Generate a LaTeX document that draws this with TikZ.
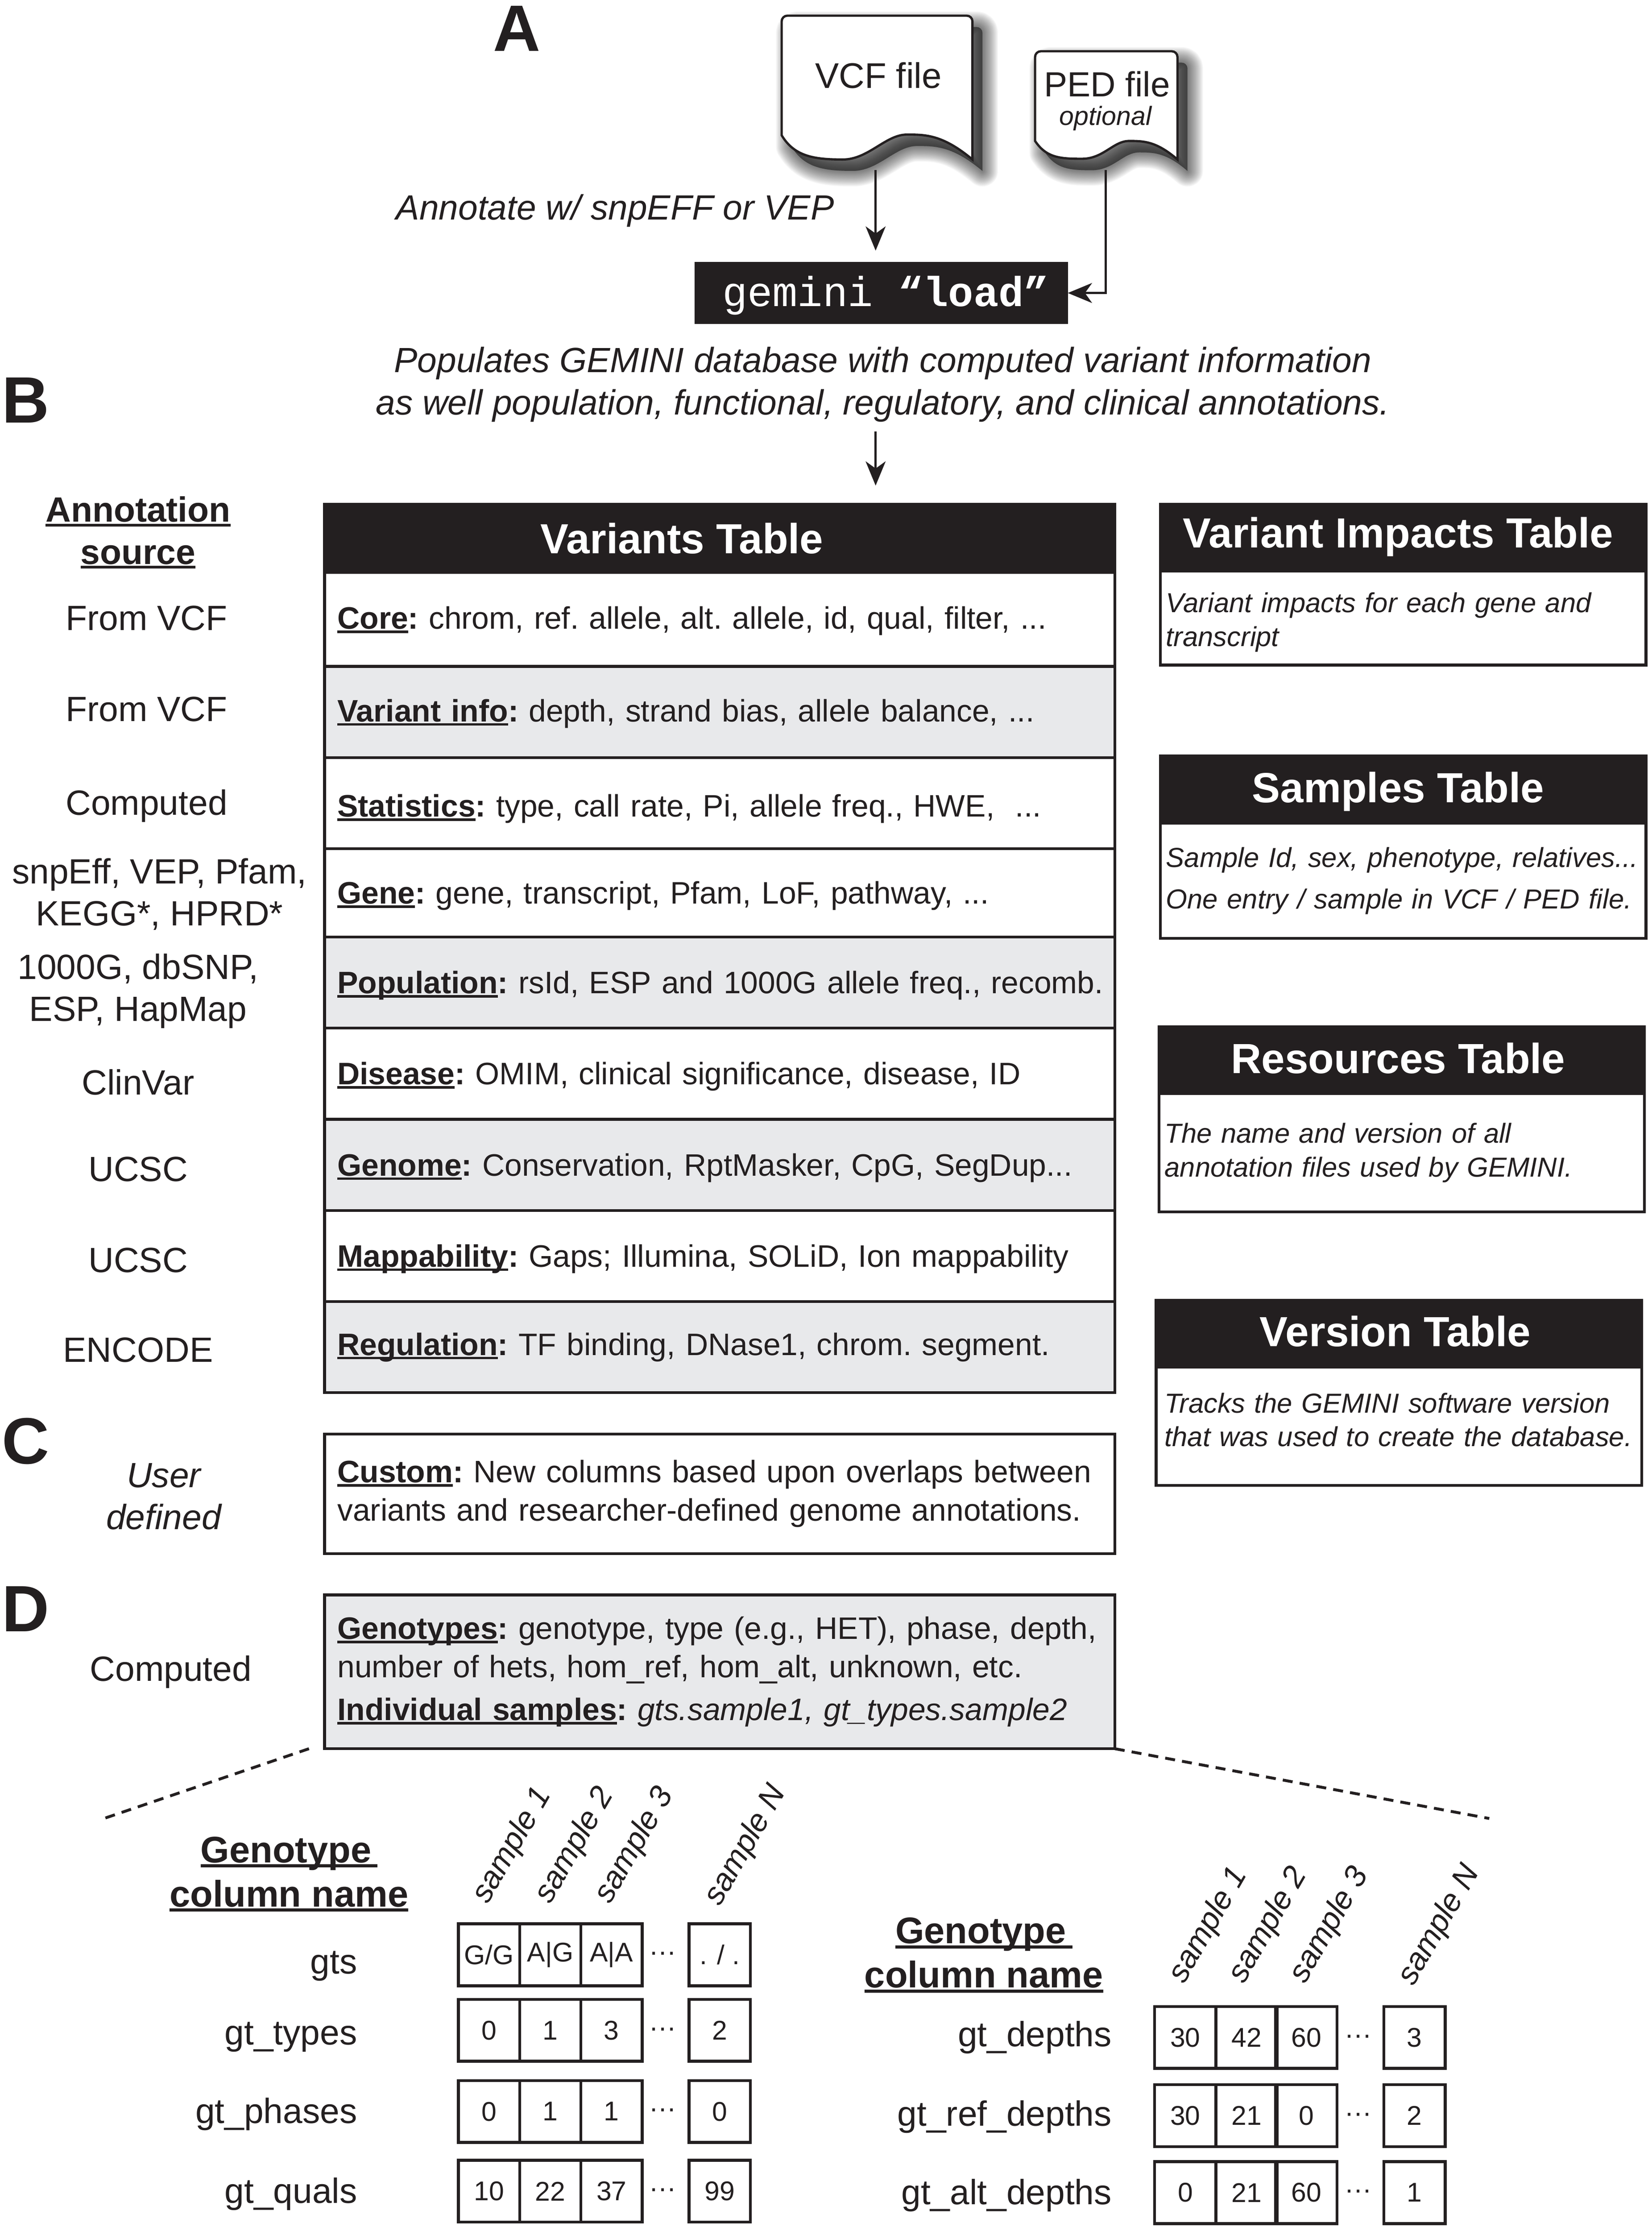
\documentclass[tikz,border=0pt]{standalone}
\usepackage{fontspec}
\setmainfont{Liberation Sans}
\setmonofont{Liberation Mono}
\usetikzlibrary{arrows.meta}

\definecolor{inkblack}{HTML}{231F20}
\definecolor{rowgray}{HTML}{E8E9EB}

\newsavebox{\ulbox}
\newcommand{\ulbf}[1]{\leavevmode\sbox{\ulbox}{\textbf{#1}}\rlap{\rule[-.13em]{\wd\ulbox}{.08em}}\usebox{\ulbox}}
\newcommand{\vcfoutline}{(549,95) [rounded corners=4pt] -- (549,11) -- (683,11) [sharp corners] -- (683,112)
    .. controls (662,94.5) and (650,94.5) .. (637,94.5) .. controls (622,94.5) and (610,112) .. (592,112)
    .. controls (572,112) and (558,110) .. (549,95) -- cycle}
\newcommand{\pedoutline}{(727,99) [rounded corners=4pt] -- (727,36) -- (827,36) [sharp corners] -- (827,112)
    .. controls (812,99) and (803,99) .. (793,99) .. controls (782,99) and (775,111.5) .. (760,111.5)
    .. controls (745,111.5) and (735,111) .. (727,99) -- cycle}

\tikzset{
    flow/.style={draw=inkblack, line width=1.5pt, -{Stealth[length=17pt,width=14pt,inset=5pt]}},
    panelletter/.style={font=\fontsize{46}{46}\selectfont\bfseries, inner sep=0pt},
    sourcelabel/.style={font=\fontsize{24.6}{29.5}\selectfont, align=center, inner sep=0pt},
    intro/.style={font=\fontsize{24.6}{30}\selectfont\itshape, align=center, inner sep=0pt},
    rowbox/.style={draw=inkblack, line width=2pt, outer sep=0pt, anchor=north west, minimum width=555pt, inner xsep=9pt, inner ysep=0pt,
        text width=537pt, align=left, font=\fontsize{21.8}{27}\selectfont\frenchspacing},
    grayrow/.style={rowbox, fill=rowgray},
    droprow/.style={text height=#1, text depth=4.6pt},
    headbox/.style={fill=inkblack, draw=inkblack, line width=2pt, outer sep=0pt, anchor=north west, inner sep=0pt},
    headtitle/.style={text=white, inner sep=0pt, font=\fontsize{29.6}{29.6}\selectfont\bfseries},
    sidebody/.style={draw=inkblack, line width=2pt, outer sep=0pt, anchor=north west, minimum width=341pt, inner xsep=4pt, inner ysep=0pt,
        text width=333pt, align=left, font=\fontsize{19.3}{24}\selectfont\itshape\frenchspacing},
    cell/.style={draw=inkblack, line width=2pt, outer sep=0pt, anchor=north west, minimum width=43pt, minimum height=43.5pt, inner sep=0pt,
        font=\fontsize{19}{19}\selectfont},
    colname/.style={font=\fontsize{24.6}{24.6}\selectfont, anchor=base east, inner sep=0pt},
    coltitle/.style={font=\fontsize{26}{31}\selectfont\bfseries, align=center, inner sep=0pt},
    samplelabel/.style={font=\fontsize{22}{22}\selectfont\itshape, rotate=60, inner sep=0pt},
    gapdots/.style={font=\fontsize{19}{19}\selectfont, inner sep=0pt},
    zoomline/.style={draw=inkblack, line width=2pt, dashed, dash pattern=on 7pt off 5pt},
}

\begin{document}
\begin{tikzpicture}[x=1pt, y=-1pt, text=inkblack]
    \useasboundingbox (0,0) rectangle (1160,1566.7);

    % panel A
    \node[panelletter] (panelA) at (363,20) {A};
    \foreach \blur in {22,21,...,1} {
        \path[shift={(7,8)}, fill=black, draw=black, line join=round, opacity=.03, line width=\blur pt] \vcfoutline;
        \path[shift={(7,8)}, fill=black, draw=black, line join=round, opacity=.03, line width=\blur pt] \pedoutline;
    }
    \draw[fill=white, draw=inkblack, line width=1.6pt] \vcfoutline;
    \draw[fill=white, draw=inkblack, line width=1.6pt] \pedoutline;
    \node[font=\fontsize{25}{25}\selectfont, inner sep=0pt] (vcf) at (617,53) {VCF file};
    \node[font=\fontsize{24.5}{24.5}\selectfont, inner sep=0pt] (ped) at (777.5,59) {PED file};
    \node[font=\fontsize{18.5}{18.5}\selectfont\itshape, inner sep=0pt] (pedopt) at (776.5,83) {optional};
    \node[intro] (annotate) at (432,148) {Annotate w/ snpEFF or VEP};
    \node[fill=inkblack, outer sep=0pt, anchor=north west, minimum width=262pt, minimum height=43.5pt, inner sep=0pt, text=white,
        text height=25pt, text depth=6pt,
        font=\fontsize{29.4}{29.4}\selectfont\ttfamily] (load) at (488,184) {\hspace*{6pt}gemini \textbf{“load”}};
    \node[intro] (populates) at (620,270) {Populates GEMINI database with computed variant information\\
        as well population, functional, regulatory, and clinical annotations.};
    \coordinate (vcfout) at (615,119.5);
    \coordinate (pedout) at (776.5,119.5);
    \coordinate (loadout) at (615,303);
    \draw[flow, shorten >=8pt] (vcfout) -- (vcfout |- load.north);
    \draw[flow] (pedout) |- (load.east);

    % panel B, the main table
    \node[panelletter] (panelB) at (18,281) {B};
    \node[headbox, minimum width=555pt, minimum height=48pt] (varhead) at (228,354) {};
    \node[headtitle] (vartitle) at (479,378) {Variants Table};
    \draw[flow, shorten >=13pt] (loadout) -- (loadout |- varhead.north);
    \node[rowbox, droprow=18pt, minimum height=66pt] (core) at (228,402) {\ulbf{Core}\textbf{:} chrom, ref. allele, alt. allele, id, qual, filter, ...};
    \node[grayrow, droprow=18pt, minimum height=64pt] (varinfo) at (228,468) {\ulbf{Variant info}\textbf{:} depth, strand bias, allele balance, ...};
    \node[rowbox, droprow=24pt, minimum height=64pt] (stats) at (228,532) {\ulbf{Statistics}\textbf{:} type, call rate, Pi, allele freq., HWE,~~...};
    \node[rowbox, droprow=20pt, minimum height=62pt] (gene) at (228,596) {\ulbf{Gene}\textbf{:} gene, transcript, Pfam, LoF, pathway, ...};
    \node[grayrow, droprow=20pt, minimum height=64pt] (popul) at (228,658) {\mbox{\ulbf{Population}\textbf{:} rsId, ESP and 1000G allele freq., recomb.}};
    \node[rowbox, droprow=20pt, minimum height=64pt] (disease) at (228,722) {\ulbf{Disease}\textbf{:} OMIM, clinical significance, disease, ID};
    \node[grayrow, droprow=20pt, minimum height=64pt] (genome) at (228,786) {\ulbf{Genome}\textbf{:} Conservation, RptMasker, CpG, SegDup...};
    \node[rowbox, droprow=20pt, minimum height=64pt] (mapp) at (228,850) {\ulbf{Mappability}\textbf{:} Gaps; Illumina, SOLiD, Ion mappability};
    \node[grayrow, droprow=16pt, minimum height=64pt] (regul) at (228,914) {\ulbf{Regulation}\textbf{:} TF binding, DNase1, chrom. segment.};

    % annotation sources
    \node[sourcelabel] (srchead) at (97,374) {\ulbf{Annotation}\\\ulbf{source}};
    \node[sourcelabel] (src1) at (103,434) {From VCF};
    \node[sourcelabel] (src2) at (103,498) {From VCF};
    \node[sourcelabel] (src3) at (103,566) {Computed};
    \node[sourcelabel] (src4) at (112,628) {snpEff, VEP, Pfam,\\KEGG*, HPRD*};
    \node[sourcelabel] (src5) at (97,696) {1000G, dbSNP,\\ESP, HapMap};
    \node[sourcelabel] (src6) at (97,760) {ClinVar};
    \node[sourcelabel] (src7) at (97,821) {UCSC};
    \node[sourcelabel] (src8) at (97,885) {UCSC};
    \node[sourcelabel] (src9) at (97,948) {ENCODE};

    % side tables
    \node[headbox, minimum width=341pt, minimum height=47pt] (imphead) at (815,354) {};
    \node[headtitle] (imptitle) at (982,377) {Variant Impacts Table};
    \node[sidebody, minimum height=66pt] (impbody) at (815,401) {\rule{0pt}{20pt}Variant impacts for each gene and\\transcript};
    \node[headbox, minimum width=341pt, minimum height=47pt] (samphead) at (815,531) {};
    \node[headtitle] (samptitle) at (982,556) {Samples Table};
    \node[sidebody, minimum height=81pt, font=\fontsize{19.3}{29}\selectfont\itshape\frenchspacing] (sampbody) at (815,578) {Sample Id, sex, phenotype, relatives...\\One entry / sample in VCF / PED file.};
    \node[headbox, minimum width=341pt, minimum height=47pt] (reshead) at (814,721) {};
    \node[headtitle] (restitle) at (982,743) {Resources Table};
    \node[sidebody, minimum height=83pt] (resbody) at (814,768) {The name and version of all\\annotation files used by GEMINI.};
    \node[headbox, minimum width=341pt, minimum height=47pt] (verhead) at (812,913) {};
    \node[headtitle] (vertitle) at (980,935) {Version Table};
    \node[sidebody, minimum height=83pt, inner xsep=6pt, text width=329pt, font=\fontsize{19.3}{23.5}\selectfont\itshape\frenchspacing] (verbody) at (812,960) {Tracks the GEMINI software version\\that was used to create the database.\rule[-9pt]{0pt}{9pt}};

    % panel C
    \node[panelletter] (panelC) at (18,1012) {C};
    \node[sourcelabel, font=\fontsize{24.6}{29.5}\selectfont\itshape] (userdef) at (115,1051) {User\\defined};
    \node[rowbox, minimum height=84pt] (custom) at (228,1007) {\ulbf{Custom}\textbf{:} New columns based upon overlaps between\\variants and researcher-defined genome annotations.};

    % panel D
    \node[panelletter] (panelD) at (18,1130) {D};
    \node[sourcelabel] (srcgeno) at (120,1174) {Computed};
    \node[grayrow, minimum height=108pt] (geno) at (228,1120) {\mbox{\ulbf{Genotypes}\textbf{:} genotype, type (e.g., HET), phase, depth,}\\number of hets, hom\_ref, hom\_alt, unknown, etc.\\[3pt]\ulbf{Individual samples}\textbf{:} \textit{gts.sample1, gt\_types.sample2}};
    \coordinate (zoomleft) at (73,1277);
    \coordinate (zoomright) at (1046,1277);
    \draw[zoomline] (geno.south west) ++(-11,0) -- (zoomleft);
    \draw[zoomline] (geno.south east) -- (zoomright);

    % genotype columns, left
    \node[coltitle] (titleleft) at (203,1316) {\ulbf{Genotype\,}\\\ulbf{column name}};
    \foreach \xpos/\lab [count=\i] in {360/sample 1,404/sample 2,446/sample 3,524/sample N}
        \node[samplelabel] (leftsample\i) at (\xpos,1296) {\lab};
    \foreach \rowlab/\ypos/\base/\va/\vb/\vc/\vn [count=\i] in {
        gts/1351/1386/{G/G}/{A|G}/{A|A}/{. / .},
        gt\_types/1404/1436/0/1/3/2,
        gt\_phases/1461/1491/0/1/1/0,
        gt\_quals/1517/1547/10/22/37/99} {
        \node[colname] (leftname\i) at (251,\base) {\rowlab};
        \node[cell] (lefta\i) at (322,\ypos) {\va};
        \node[cell] (leftb\i) at (365,\ypos) {\vb};
        \node[cell] (leftc\i) at (408,\ypos) {\vc};
        \node[cell] (leftn\i) at (484,\ypos) {\vn};
        \node[gapdots] (leftdots\i) at (465.5,\ypos+23) {\textperiodcentered\textperiodcentered\textperiodcentered};
    }

    % genotype columns, right
    \node[coltitle] (titleright) at (691,1373) {\ulbf{Genotype\,}\\\ulbf{column name}};
    \foreach \xpos/\lab [count=\i] in {849/sample 1,891/sample 2,934/sample 3,1011/sample N}
        \node[samplelabel] (rightsample\i) at (\xpos,1352) {\lab};
    \foreach \rowlab/\ypos/\base/\va/\vb/\vc/\vn [count=\i] in {
        gt\_depths/1409/1437/30/42/60/3,
        gt\_ref\_depths/1464/1493/30/21/0/2,
        gt\_alt\_depths/1518/1548/0/21/60/1} {
        \node[colname] (rightname\i) at (781,\base) {\rowlab};
        \node[cell] (righta\i) at (811,\ypos) {\va};
        \node[cell] (rightb\i) at (854,\ypos) {\vb};
        \node[cell] (rightc\i) at (896,\ypos) {\vc};
        \node[cell] (rightn\i) at (972,\ypos) {\vn};
        \node[gapdots] (rightdots\i) at (954,\ypos+23) {\textperiodcentered\textperiodcentered\textperiodcentered};
    }
\end{tikzpicture}
\end{document}
